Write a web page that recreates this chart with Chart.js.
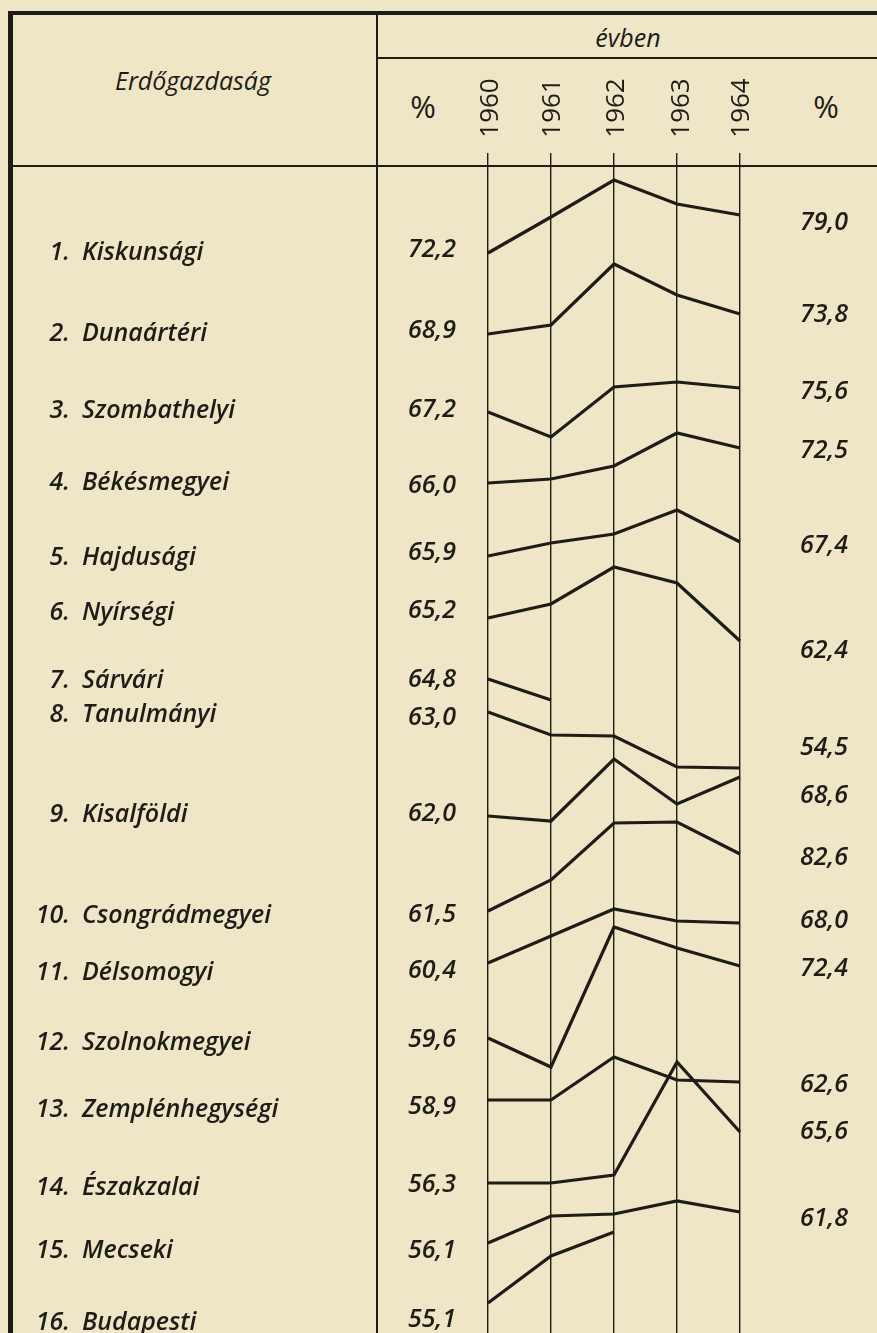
<!DOCTYPE html>
<html lang="hu">
<head>
<meta charset="utf-8">
<title>Erdőgazdaság</title>
<script src="https://cdn.jsdelivr.net/npm/chart.js@4"></script>
<style>
    html, body { margin: 0; padding: 0; }
    body { width: 877px; height: 1333px; overflow: hidden; }
    .page { position: relative; width: 877px; height: 1333px; background: #efe5c7; color: #1d1d16; font-family: "Open Sans", sans-serif; }
    .rule { position: absolute; background: #1d1d16; }
    .txt { position: absolute; white-space: nowrap; font-style: italic; font-weight: 600; line-height: 30px; height: 30px; }
    .num { font-size: 25px; }
    .name { font-size: 25px; }
    .year { position: absolute; font-size: 26px; font-weight: 400; line-height: 26px; width: 80px; text-align: center; transform: translate(-50%, -50%) rotate(-90deg); }
    .pct { position: absolute; font-size: 31px; line-height: 34px; width: 44px; text-align: center; transform: translate(-50%, -50%); }
    #chart { position: absolute; left: 0; top: 0; }
</style>
</head>
<body>
<div class="page" id="page">
    <div class="rule" style="left:8px;top:11px;width:869px;height:4px"></div>
    <div class="rule" style="left:8px;top:11px;width:5px;height:1322px"></div>
    <div class="rule" style="left:12px;top:165px;width:865px;height:2px"></div>
    <div class="rule" style="left:376px;top:13px;width:2px;height:1320px"></div>
    <div class="rule" style="left:376px;top:57px;width:501px;height:2px"></div>

    <div class="txt name" style="left:103px;top:65px;width:180px;text-align:center;font-weight:400">Erdőgazdaság</div>
    <div class="txt name" style="left:578px;top:22px;width:100px;text-align:center;font-weight:400">évben</div>
    <div class="pct" style="left:423px;top:106px">%</div>
    <div class="pct" style="left:826px;top:106px">%</div>

    <canvas id="chart" width="877" height="1333"></canvas>
</div>

<script>
// erdőgazdaságok
const forestNames = ['Kiskunsági', 'Dunaártéri', 'Szombathelyi', 'Békésmegyei', 'Hajdusági', 'Nyírségi',
    'Sárvári', 'Tanulmányi', 'Kisalföldi', 'Csongrádmegyei', 'Délsomogyi', 'Szolnokmegyei',
    'Zemplénhegységi', 'Északzalai', 'Mecseki', 'Budapesti'];
const years = ['1960', '1961', '1962', '1963', '1964'];

// % 1960-ban (bal oszlop) és a jobb oszlop értékei
const pct1960 = ['72,2', '68,9', '67,2', '66,0', '65,9', '65,2', '64,8', '63,0', '62,0', '61,5', '60,4', '59,6', '58,9', '56,3', '56,1', '55,1'];
const pctRight = ['79,0', '73,8', '75,6', '72,5', '67,4', '62,4', '54,5', '68,6', '82,6', '68,0', '72,4', '62,6', '65,6', '61,8'];

// vonalak szintje évenként (leolvasva a rajzról)
const kiskunsagi = [108.0, 111.6, 115.3, 112.9, 111.8];
const dunaarteri = [99.9, 100.8, 106.9, 103.8, 101.9];
const szombathelyi = [92.1, 89.6, 94.6, 95.1, 94.5];
const bekesmegyei = [85.0, 85.4, 86.7, 90.0, 88.5];
const hajdusagi = [77.7, 79.0, 79.9, 82.3, 79.1];
const nyirsegi = [71.5, 72.9, 76.6, 75.0, 69.2];
const sarvari = [65.4, 63.3, null, null, null];
const tanulmanyi = [62.1, 59.8, 59.7, 56.6, 56.5];
const kisalfoldi = [51.7, 51.2, 57.4, 52.9, 55.6];
const csongradmegyei = [42.2, 45.3, 51.0, 51.1, 47.9];
const delsomogyi = [37.0, 39.7, 42.4, 41.2, 41.0];
const szolnokmegyei = [29.5, 26.6, 40.6, 38.5, 36.7];
const zemplenhegysegi = [23.3, 23.3, 27.6, 25.3, 25.1];
const eszakzalai = [15.0, 15.0, 15.8, 27.1, 20.1];
const mecseki = [9.0, 11.7, 11.9, 13.2, 12.1];
const budapesti = [3.0, 7.7, 10.1, null, null];

const seriesList = [kiskunsagi, dunaarteri, szombathelyi, bekesmegyei, hajdusagi, nyirsegi, sarvari, tanulmanyi,
    kisalfoldi, csongradmegyei, delsomogyi, szolnokmegyei, zemplenhegysegi, eszakzalai, mecseki, budapesti];

// elrendezés (szövegek függőleges közepe)
const nameY = [250, 331, 408, 480, 555, 610, 678, 712, 812, 913, 970, 1040, 1107, 1185, 1248, 1320];
const leftY = [247, 328, 407, 483, 550, 608, 677, 715, 811, 912, 968, 1037, 1104, 1182, 1248, 1317];
const rightY = [220, 312, 389, 448, 543, 648, 745, 793, 855, 918, 966, 1082, 1129, 1216];
const yearX = [488, 550, 614, 679, 739];
const INK = '#1d1d16';

function addText(cls, text, left, top, width, align) {
    const el = document.createElement('div');
    el.className = cls;
    el.textContent = text;
    el.style.left = left + 'px';
    el.style.top = top + 'px';
    if (width) el.style.width = width + 'px';
    if (align) el.style.textAlign = align;
    document.getElementById('page').appendChild(el);
}

function buildTable() {
    forestNames.forEach((name, i) => {
        addText('txt name', (i + 1) + '.', 0, nameY[i] - 15, 70, 'right');
        addText('txt name', name, 82, nameY[i] - 15);
        addText('txt num', pct1960[i], 380, leftY[i] - 15, 76, 'right');
    });
    pctRight.forEach((val, i) => {
        addText('txt num', val, 770, rightY[i] - 15, 78, 'right');
    });
    years.forEach((y, i) => {
        const el = document.createElement('div');
        el.className = 'year';
        el.textContent = y;
        el.style.left = yearX[i] + 'px';
        el.style.top = '108px';
        document.getElementById('page').appendChild(el);
    });
}

function initChart() {
    const ctx = document.getElementById('chart').getContext('2d');
    new Chart(ctx, {
        type: 'line',
        data: {
            labels: years,
            datasets: seriesList.map((data, i) => ({
                label: forestNames[i],
                data: data,
                borderColor: INK,
                borderWidth: 3.2,
                pointRadius: 0,
                tension: 0,
                spanGaps: false
            }))
        },
        options: {
            responsive: false,
            animation: false,
            devicePixelRatio: 1,
            layout: { padding: { left: 488, right: 137, top: 153, bottom: 0 } },
            plugins: { legend: { display: false }, tooltip: { enabled: false } },
            scales: {
                x: {
                    position: 'top',
                    offset: false,
                    ticks: { display: false },
                    border: { display: false },
                    grid: { color: INK, lineWidth: 1.4, drawTicks: true, tickLength: 13 }
                },
                y: {
                    display: false,
                    min: 0,
                    max: 116.7
                }
            }
        }
    });
}

buildTable();
initChart();
</script>
</body>
</html>
